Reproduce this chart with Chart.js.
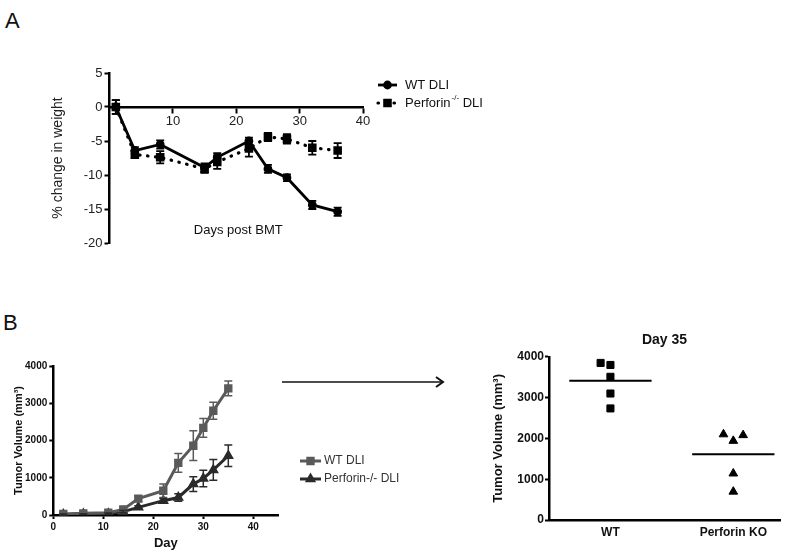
<!DOCTYPE html>
<html>
<head>
<meta charset="utf-8">
<script src="https://cdn.jsdelivr.net/npm/chart.js@4.4.1/dist/chart.umd.min.js"></script>
<style>
  body { margin: 0; background: #fff; overflow: hidden; }
  #fig { position: relative; width: 800px; height: 556px; font-family: "Liberation Sans", Arial, sans-serif; }
  .panel { position: absolute; font-size: 22px; line-height: 22px; color: #111; }
  canvas { position: absolute; }
</style>
</head>
<body>
<div id="fig">
  <div class="panel" style="left:5px;top:10px">A</div>
  <div class="panel" style="left:3px;top:312px">B</div>
  <canvas id="weight" width="470" height="200" style="left:50px;top:60px"></canvas>
  <canvas id="growth" width="442" height="200" style="left:8px;top:356px"></canvas>
  <canvas id="day35" width="316" height="238" style="left:484px;top:318px"></canvas>
</div>
<script>
// Panel A - weight change after BMT
var weightDays = [1, 4, 8, 15, 17, 22, 25, 28, 32, 36];
var weightWT = [0, -6.4, -5.5, -8.9, -7.4, -5.0, -9.1, -10.4, -14.4, -15.4];
var weightWTErr = [1.0, 0.5, 0.6, 0.6, 0.6, 0.5, 0.6, 0.5, 0.6, 0.6];
var weightPerf = [0, -7.0, -7.4, -9.1, -8.1, -6.1, -4.4, -4.7, -6.0, -6.4];
var weightPerfErr = [1.0, 0.5, 0.9, 0.6, 1.0, 1.2, 0.6, 0.7, 1.0, 1.1];
var weightTicksX = [10, 20, 30, 40];

// Panel B - tumor growth
var tumorDays = [2, 6, 11, 14, 17, 22, 25, 28, 30, 32, 35];
var tumorWT = [30, 45, 60, 150, 440, 650, 1400, 1860, 2340, 2800, 3400];
var tumorWTErr = [20, 20, 30, 40, 80, 180, 250, 400, 250, 230, 200];
var tumorPerf = [15, 25, 35, 90, 205, 385, 470, 830, 980, 1210, 1590];
var tumorPerfErr = [10, 10, 20, 30, 40, 60, 100, 200, 220, 280, 290];
var tumorTicksX = [0, 10, 20, 30, 40];

// Panel B - day 35 scatter
var day35Groups = ['WT', 'Perforin KO'];
var day35WT = [3850, 3800, 3510, 3100, 2735];
var day35Perf = [2100, 1940, 2080, 1140, 695];
var day35Means = [3410, 1610];
// horizontal spread of overlapping dots, in group widths
var day35WTSpread = [-0.16, 0, 0, 0, 0];
var day35PerfSpread = [-0.16, 0, 0.16, 0, 0];

var FONT = '"Liberation Sans", Arial, sans-serif';
Chart.defaults.font.family = FONT;
Chart.defaults.color = '#222';

function xy(xs, ys) {
  return xs.map(function (x, i) { return { x: x, y: ys[i] }; });
}
function plain(v) { return String(v); }

// error bars drawn from the errors array of each dataset
var errorBars = {
  id: 'errorBars',
  afterDatasetsDraw: function (chart) {
    var ctx = chart.ctx;
    chart.data.datasets.forEach(function (ds, i) {
      if (!ds.errors) return;
      var meta = chart.getDatasetMeta(i);
      var ys = chart.scales[meta.yAxisID];
      var cap = ds.errorCap || 4;
      ctx.save();
      ctx.strokeStyle = ds.borderColor;
      ctx.lineWidth = ds.errorWidth || 1.8;
      meta.data.forEach(function (pt, j) {
        var v = ds.data[j].y, e = ds.errors[j];
        var top = ys.getPixelForValue(v + e), bot = ys.getPixelForValue(v - e);
        ctx.beginPath();
        ctx.moveTo(pt.x, top); ctx.lineTo(pt.x, bot);
        ctx.moveTo(pt.x - cap, top); ctx.lineTo(pt.x + cap, top);
        ctx.moveTo(pt.x - cap, bot); ctx.lineTo(pt.x + cap, bot);
        ctx.stroke();
      });
      ctx.restore();
    });
  }
};

function legendSample(ctx, x1, x2, y, ds) {
  ctx.save();
  ctx.strokeStyle = ds.borderColor;
  ctx.fillStyle = ds.backgroundColor;
  ctx.lineWidth = ds.borderWidth;
  ctx.lineCap = ds.borderCapStyle || 'butt';
  ctx.setLineDash(ds.borderDash || []);
  ctx.beginPath(); ctx.moveTo(x1, y); ctx.lineTo(x2, y); ctx.stroke();
  ctx.setLineDash([]);
  Chart.helpers.drawPoint(ctx, { pointStyle: ds.pointStyle, radius: ds.pointRadius, borderWidth: 1, rotation: 0 }, (x1 + x2) / 2, y);
  ctx.restore();
}

// ---------- Panel A ----------
new Chart(document.getElementById('weight'), {
  type: 'line',
  data: {
    datasets: [{
      label: 'WT DLI',
      data: xy(weightDays, weightWT),
      errors: weightWTErr,
      borderColor: '#000', backgroundColor: '#000',
      borderWidth: 2.8, pointStyle: 'circle', pointRadius: 3,
      errorCap: 4
    }, {
      label: 'Perforin-/- DLI',
      data: xy(weightDays, weightPerf),
      errors: weightPerfErr,
      borderColor: '#000', backgroundColor: '#000',
      borderWidth: 3.2, borderDash: [0.5, 7.5], borderCapStyle: 'round',
      pointStyle: 'rect', pointRadius: 3.8,
      errorCap: 4
    }]
  },
  options: {
    responsive: false,
    animation: false,
    layout: { padding: { top: 13, right: 157, bottom: 17, left: 0 } },
    plugins: { legend: { display: false }, tooltip: { enabled: false } },
    scales: {
      x: {
        type: 'linear', position: { y: 0 }, min: 0, max: 40,
        afterBuildTicks: function (s) { s.ticks = weightTicksX.map(function (v) { return { value: v }; }); },
        afterFit: function (s) { s.height = 0; },
        ticks: { font: { size: 13 }, color: '#222', padding: 2, callback: plain },
        border: { color: '#000', width: 2.5 },
        grid: { drawOnChartArea: false, tickLength: 5, tickWidth: 2, tickColor: '#000' }
      },
      y: {
        min: -20, max: 5,
        afterFit: function (s) { s.width = 59.5; },
        ticks: { stepSize: 5, font: { size: 13 }, color: '#222', padding: 2, callback: plain },
        border: { color: '#000', width: 2.5 },
        grid: { drawOnChartArea: false, tickLength: 5, tickWidth: 2, tickColor: '#000' },
        title: { display: true, text: '% change in weight', font: { size: 14 }, color: '#222', padding: { top: 0, bottom: 0 } }
      }
    }
  },
  plugins: [errorBars, {
    id: 'weightExtras',
    afterDraw: function (chart) {
      var ctx = chart.ctx, area = chart.chartArea, ds = chart.data.datasets;
      ctx.save();
      ctx.fillStyle = '#111';
      ctx.font = '13px ' + FONT;
      ctx.textAlign = 'center';
      ctx.textBaseline = 'middle';
      ctx.fillText('Days post BMT', (area.left + area.right) / 2 + 2, area.bottom - 13);
      // legend
      ctx.textAlign = 'left';
      legendSample(ctx, 328, 347, 25, ds[0]);
      legendSample(ctx, 328, 347, 43, ds[1]);
      ctx.fillStyle = '#111';
      ctx.fillText('WT DLI', 355, 25);
      ctx.fillText('Perforin', 355, 43);
      var w = ctx.measureText('Perforin').width;
      ctx.font = '8px ' + FONT;
      ctx.fillText('-/-', 355 + w + 1, 38);
      var w2 = ctx.measureText('-/-').width;
      ctx.font = '13px ' + FONT;
      ctx.fillText(' DLI', 355 + w + w2 + 1, 43);
      ctx.restore();
    }
  }]
});

// ---------- Panel B, growth ----------
new Chart(document.getElementById('growth'), {
  type: 'line',
  data: {
    datasets: [{
      label: 'WT DLI',
      data: xy(tumorDays, tumorWT),
      errors: tumorWTErr,
      borderColor: '#5a5a5a', backgroundColor: '#5a5a5a',
      borderWidth: 3, pointStyle: 'rect', pointRadius: 3.8,
      errorCap: 4, errorWidth: 1.5
    }, {
      label: 'Perforin-/- DLI',
      data: xy(tumorDays, tumorPerf),
      errors: tumorPerfErr,
      borderColor: '#2a2a2a', backgroundColor: '#2a2a2a',
      borderWidth: 3, pointStyle: 'triangle', pointRadius: 3.5,
      errorCap: 4, errorWidth: 1.5
    }]
  },
  options: {
    responsive: false,
    animation: false,
    layout: { padding: { top: 10, right: 171.7, bottom: 0, left: 0 } },
    plugins: { legend: { display: false }, tooltip: { enabled: false } },
    scales: {
      x: {
        type: 'linear', min: 0, max: 45,
        afterBuildTicks: function (s) { s.ticks = tumorTicksX.map(function (v) { return { value: v }; }); },
        afterFit: function (s) { s.height = 41; },
        ticks: { font: { size: 10, weight: 'bold' }, color: '#111', padding: 2, maxRotation: 0, callback: plain },
        border: { color: '#000', width: 2.5 },
        grid: { drawOnChartArea: false, tickLength: 4, tickWidth: 2, tickColor: '#000' },
        title: { display: true, text: 'Day', font: { size: 13, weight: 'bold' }, color: '#111', padding: { top: 0, bottom: 5 } }
      },
      y: {
        min: 0, max: 4000,
        afterFit: function (s) { s.width = 45.3; },
        ticks: { stepSize: 1000, font: { size: 10, weight: 'bold' }, color: '#111', padding: 2, callback: plain },
        border: { color: '#000', width: 2.5 },
        grid: { drawOnChartArea: false, tickLength: 4, tickWidth: 2, tickColor: '#000' },
        title: { display: true, text: 'Tumor Volume (mm³)', font: { size: 11, weight: 'bold' }, color: '#111', padding: { top: 4, bottom: 0 } }
      }
    }
  },
  plugins: [errorBars, {
    id: 'growthExtras',
    afterDraw: function (chart) {
      var ctx = chart.ctx, ds = chart.data.datasets;
      ctx.save();
      // legend
      legendSample(ctx, 292, 313, 105, ds[0]);
      legendSample(ctx, 292, 313, 123, ds[1]);
      ctx.fillStyle = '#333';
      ctx.font = '12px ' + FONT;
      ctx.textBaseline = 'middle';
      ctx.fillText('WT DLI', 316, 105);
      ctx.fillText('Perforin-/- DLI', 316, 123);
      // arrow to the day 35 panel
      ctx.strokeStyle = '#111';
      ctx.lineWidth = 1.5;
      ctx.beginPath(); ctx.moveTo(274, 26); ctx.lineTo(435, 26); ctx.stroke();
      ctx.lineWidth = 2;
      ctx.beginPath(); ctx.moveTo(428, 21); ctx.lineTo(435, 26); ctx.lineTo(428, 31); ctx.stroke();
      ctx.restore();
    }
  }]
});

// ---------- Panel B, day 35 ----------
function groupX(i) { return 1 + 2 * i; }

new Chart(document.getElementById('day35'), {
  type: 'scatter',
  data: {
    datasets: [{
      label: day35Groups[0],
      data: day35WT.map(function (v, i) { return { x: groupX(0) + day35WTSpread[i], y: v }; }),
      pointStyle: 'rect', pointRadius: 5, borderWidth: 1,
      backgroundColor: '#000', borderColor: '#000'
    }, {
      label: day35Groups[1],
      data: day35Perf.map(function (v, i) { return { x: groupX(1) + day35PerfSpread[i], y: v }; }),
      pointStyle: 'triangle', pointRadius: 5, borderWidth: 1,
      backgroundColor: '#000', borderColor: '#000'
    }, {
      label: 'mean WT',
      data: [{ x: groupX(0) - 0.67, y: day35Means[0] }, { x: groupX(0) + 0.67, y: day35Means[0] }],
      showLine: true, pointRadius: 0, borderColor: '#000', borderWidth: 2
    }, {
      label: 'mean Perforin KO',
      data: [{ x: groupX(1) - 0.67, y: day35Means[1] }, { x: groupX(1) + 0.67, y: day35Means[1] }],
      showLine: true, pointRadius: 0, borderColor: '#000', borderWidth: 2
    }]
  },
  options: {
    responsive: false,
    animation: false,
    layout: { padding: { top: 6, right: 20, bottom: 0, left: 0 } },
    plugins: {
      legend: { display: false },
      tooltip: { enabled: false },
      title: { display: true, text: 'Day 35', fullSize: false, color: '#111', font: { size: 14, weight: 'bold' }, padding: { top: 8, bottom: 8 } }
    },
    scales: {
      x: {
        type: 'linear', min: 0, max: 3.76,
        afterBuildTicks: function (s) { s.ticks = day35Groups.map(function (g, i) { return { value: groupX(i) }; }); },
        afterFit: function (s) { s.height = 36; },
        ticks: { font: { size: 12, weight: 'bold' }, color: '#111', padding: 5, maxRotation: 0,
          callback: function (v, i) { return day35Groups[i]; } },
        border: { color: '#000', width: 2.5 },
        grid: { display: false, drawTicks: false }
      },
      y: {
        min: 0, max: 4000,
        afterFit: function (s) { s.width = 65; },
        ticks: { stepSize: 1000, font: { size: 12, weight: 'bold' }, color: '#111', padding: 1, callback: plain },
        border: { color: '#000', width: 2.5 },
        grid: { drawOnChartArea: false, tickLength: 4, tickWidth: 2, tickColor: '#000' },
        title: { display: true, text: 'Tumor Volume (mm³)', font: { size: 13, weight: 'bold' }, color: '#111', padding: { top: 7, bottom: 0 } }
      }
    }
  }
});
</script>
</body>
</html>
